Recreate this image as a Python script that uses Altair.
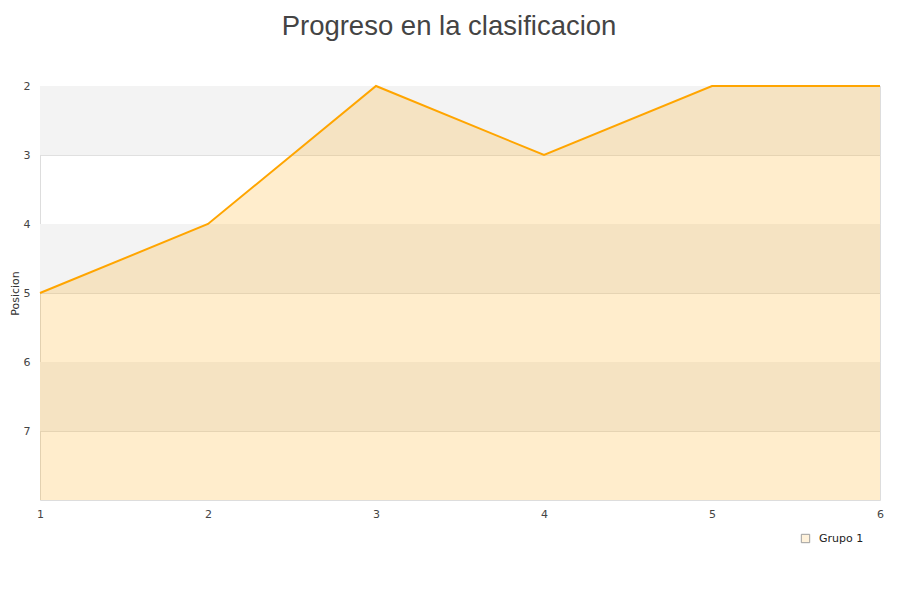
import altair as alt
import pandas as pd

jornadas = [1, 2, 3, 4, 5, 6]
posicion = [5, 4, 2, 3, 2, 2]
serie = "Grupo 1"

band_start = [2, 4, 6]
band_end = [3, 5, 7]

df = pd.DataFrame({"x": jornadas, "y": posicion, "serie": [serie] * len(jornadas)})
bands = pd.DataFrame({"y": band_start, "y2": band_end})

W, H = 840, 414

xscale = alt.Scale(domain=[1, 6], nice=False, zero=False)
yscale = alt.Scale(domain=[2, 8], reverse=True, nice=False, zero=False)

band_layer = alt.Chart(bands).mark_rect(color="#f3f3f3").encode(
    y=alt.Y("y:Q", scale=yscale),
    y2="y2:Q",
    x=alt.value(0),
    x2=alt.value(W),
)

area = alt.Chart(df).mark_area(color="orange", fillOpacity=0.2).encode(
    x=alt.X("x:Q", scale=xscale,
            axis=alt.Axis(values=jornadas, title=None, grid=False, ticks=False,
                          domain=False, labelPadding=8, labelFontSize=11, labelFlush=False,
                          labelColor="#444", labelFont="DejaVu Sans", format="d")),
    y=alt.Y("y:Q", scale=yscale,
            axis=alt.Axis(values=[2, 3, 4, 5, 6, 7], title="Posicion", ticks=False,
                          domain=False, labelPadding=10, labelFontSize=11,
                          labelColor="#444", labelFont="DejaVu Sans", gridColor="#e0e0e0",
                          titleFont="DejaVu Sans", titleFontSize=11, titleFontWeight="normal",
                          titleColor="#333", titlePadding=3, format="d")),
    y2=alt.datum(8),
)

line = alt.Chart(df).mark_line(color="orange", strokeWidth=2).encode(
    x=alt.X("x:Q", scale=xscale),
    y=alt.Y("y:Q", scale=yscale),
)

legend_layer = alt.Chart(df).transform_filter("false").mark_point(shape="square").encode(
    x=alt.X("x:Q", scale=xscale),
    y=alt.Y("y:Q", scale=yscale),
    fill=alt.Fill("serie:N", scale=alt.Scale(domain=[serie], range=["#ffedcc"]),
                  legend=alt.Legend(title=None, orient="none", legendX=760, legendY=447,
                                    symbolType="square", symbolSize=70,
                                    symbolStrokeColor="#777", symbolStrokeWidth=1,
                                    labelFont="DejaVu Sans", labelFontSize=11,
                                    labelColor="#222", labelOffset=8)),
)

chart = alt.layer(band_layer, area, line, legend_layer).properties(
    width=W, height=H,
    title=alt.TitleParams("Progreso en la clasificacion", font="Liberation Sans",
                          fontSize=27.5, fontWeight="normal", color="#444", offset=40, dx=-11),
    autosize=alt.AutoSizeParams(type="none"),
    padding={"left": 32, "top": 78, "right": 12, "bottom": 80},
).configure_view(stroke="#dddddd")

chart.save("out.html", embed_options={"renderer": "svg", "actions": False})
